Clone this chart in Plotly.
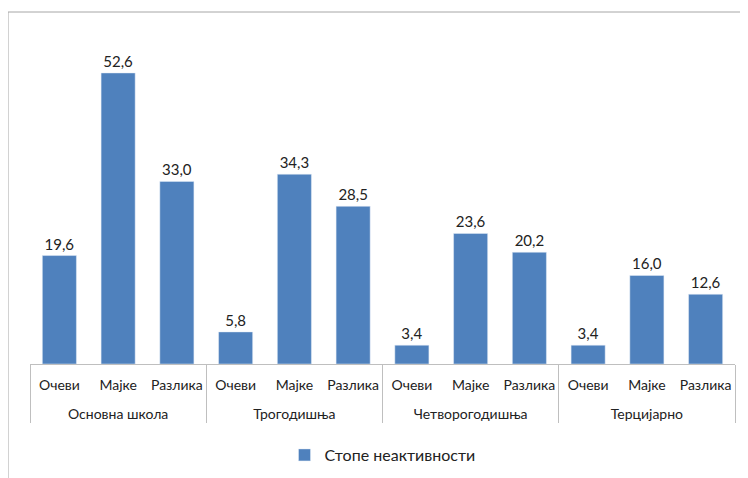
import plotly.graph_objects as go

groups = ["Основна школа", "Трогодишња", "Четворогодишња", "Терцијарно"]
subcats = ["Очеви", "Мајке", "Разлика"]
values = [19.6, 52.6, 33.0, 5.8, 34.3, 28.5, 3.4, 23.6, 20.2, 3.4, 16.0, 12.6]
series_name = "Стопе неактивности"

xg = ["<br>" + g for g in groups for _ in subcats]
xs = [s for _ in groups for s in subcats]

fig = go.Figure()
fig.add_trace(go.Bar(
    x=[xg, xs], y=values, name=series_name,
    marker_color="#4F81BD",
    texttemplate="%{y:.1f}",
    textposition="outside",
    textfont=dict(size=15, color="#222222"),
    cliponaxis=False,
    showlegend=True,
))

# page body has an 8px offset
OFF = 8
W, H = 740, 470
plot_left, plot_right, plot_top, plot_bottom = 30 - OFF, 735 - OFF, 32 - OFF, 364 - OFF
L, R, T, B = plot_left, W - plot_right, plot_top, H - plot_bottom
pw, ph = W - L - R, H - T - B

def px(x):
    return (x - OFF - L) / pw

def py(y):
    return (364 - y) / ph

fig.update_layout(
    width=W, height=H,
    margin=dict(l=L, r=R, t=T, b=B, autoexpand=False),
    plot_bgcolor="white", paper_bgcolor="white",
    separators=",.",
    bargap=0.42,
    font=dict(family="Lato, Open Sans, sans-serif", size=14, color="#222222"),
    showlegend=True,
    legend=dict(orientation="h", x=0.5, xanchor="center", y=py(455), yanchor="middle",
                font=dict(size=16)),
    xaxis=dict(type="multicategory", showline=True, linecolor="#BFBFBF", linewidth=1,
               showdividers=True, dividercolor="#BFBFBF", dividerwidth=1,
               ticks="", tickangle=0, automargin=False, ticklabelstandoff=8,
               tickfont=dict(size=14)),
    yaxis=dict(range=[0, 60], visible=False, showgrid=False, automargin=False),
    shapes=[dict(type="rect", xref="paper", yref="paper",
                 x0=px(8), x1=px(760),
                 y0=py(490), y1=py(12),
                 line=dict(color="#A6A6A6", width=1), fillcolor="rgba(0,0,0,0)", layer="below")],
)

fig.write_html("out.html")
